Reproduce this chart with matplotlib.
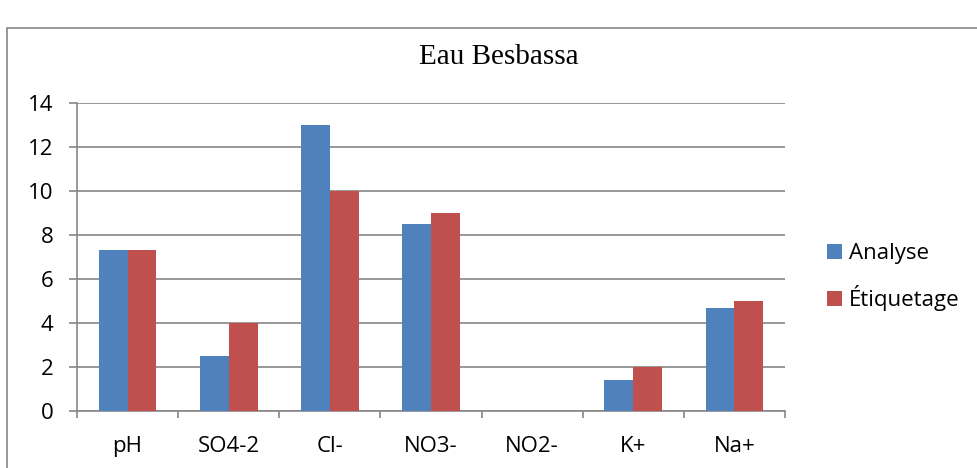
import numpy as np
import matplotlib.pyplot as plt
from matplotlib.patches import Rectangle

categories = ['pH', 'SO4-2', 'Cl-', 'NO3-', 'NO2-', 'K+', 'Na+']
analyse = [7.3, 2.5, 13, 8.5, 0, 1.4, 4.7]
etiquetage = [7.3, 4, 10, 9, 0, 2, 5]
series_names = ['Analyse', 'Étiquetage']
colors = ['#4f81bd', '#c0504d']
grid_col = '#868686'

fig = plt.figure(figsize=(9.77, 4.68), dpi=100)
W, H = 977, 468
# plot area in pixels: x 77..785, y 103..411
ax = fig.add_axes([77 / W, 1 - 411 / H, (785 - 77) / W, (411 - 103) / H])

# outer chart frame (cropped on the right and bottom in the reference)
fig.patches.append(Rectangle((7 / W, -0.1), 1.2, 1 - 28 / H + 0.1,
                             transform=fig.transFigure, fill=False,
                             edgecolor=grid_col, linewidth=1.2))

x = np.arange(len(categories))
bw = 1 / 3.5
ax.bar(x - bw / 2, analyse, bw, color=colors[0], label=series_names[0], zorder=3)
ax.bar(x + bw / 2, etiquetage, bw, color=colors[1], label=series_names[1], zorder=3)

ax.set_xlim(-0.5, len(categories) - 0.5)
ax.set_ylim(0, 14)
ax.set_yticks(np.arange(0, 15, 2))
ax.yaxis.grid(True, color=grid_col, linewidth=1.2, zorder=0)
ax.set_axisbelow(True)

ax.set_xticks(np.arange(-0.5, len(categories), 1))
ax.set_xticklabels([])
ax.set_xticks(x, minor=True)
ax.set_xticklabels(categories, minor=True)
ax.tick_params(axis='x', which='major', length=5, width=1.2, color=grid_col, direction='out')
ax.tick_params(axis='x', which='minor', length=0, pad=18, labelsize=16)
ax.tick_params(axis='y', length=6, width=1.2, color=grid_col, labelsize=16, pad=11)

for s in ['top', 'right']:
    ax.spines[s].set_visible(False)
for s in ['left', 'bottom']:
    ax.spines[s].set_color(grid_col)
    ax.spines[s].set_linewidth(1.2)

for lab in ax.get_xticklabels(minor=True) + ax.get_yticklabels():
    lab.set_fontfamily('Open Sans')

fig.text(499 / W, 1 - 57 / H, 'Eau Besbassa', ha='center', va='center',
         fontsize=21, fontfamily='Liberation Serif')

leg = fig.legend(loc='center left', bbox_to_anchor=(807 / W, 1 - 277 / H), frameon=False,
                 prop={'family': 'Open Sans', 'size': 16}, handlelength=0.68,
                 handleheight=0.68, handletextpad=0.3, labelspacing=0.95)

fig.savefig('out.png', dpi=100)
